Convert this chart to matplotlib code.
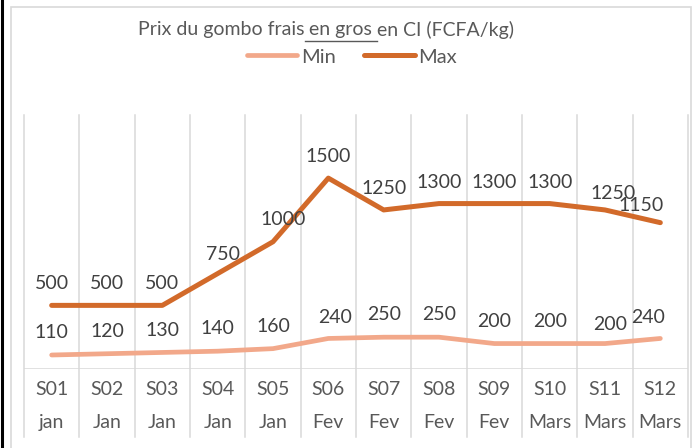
import matplotlib
matplotlib.use("Agg")
import matplotlib.pyplot as plt
from matplotlib.lines import Line2D
from matplotlib.patches import Rectangle
import matplotlib.transforms as mtransforms

weeks = ["S01", "S02", "S03", "S04", "S05", "S06", "S07", "S08", "S09", "S10", "S11", "S12"]
months = ["jan", "Jan", "Jan", "Jan", "Jan", "Fev", "Fev", "Fev", "Fev", "Mars", "Mars", "Mars"]
price_min = [110, 120, 130, 140, 160, 240, 250, 250, 200, 200, 200, 240]
price_max = [500, 500, 500, 750, 1000, 1500, 1250, 1300, 1300, 1300, 1250, 1150]

plt.rcParams['font.family'] = ['Lato', 'DejaVu Sans']

W, H = 696, 448
fig = plt.figure(figsize=(W / 100, H / 100), dpi=100)
ax = fig.add_axes([24 / W, 1 - 369 / H, (688 - 24) / W, (369 - 114.5) / H])

c_min = '#F2A88A'
c_max = '#D26A2A'
grid_c = '#D9D9D9'
txt_c = '#595959'
lab_c = '#404040'
fs = 14

x = list(range(len(weeks)))
ax.plot(x, price_min, color=c_min, lw=3.4, solid_capstyle='round', solid_joinstyle='round', label='Min', zorder=3)
ax.plot(x, price_max, color=c_max, lw=3.6, solid_capstyle='round', solid_joinstyle='round', label='Max', zorder=3)

ax.set_xlim(-0.5, len(weeks) - 0.5)
ax.set_ylim(0, 2000)
ax.set_xticks([])
ax.set_yticks([])
for s in ax.spines.values():
    s.set_visible(False)

# vertical separators, running down through the category labels
trans = mtransforms.blended_transform_factory(ax.transData, ax.transAxes)
for b in [i - 0.5 for i in range(len(weeks) + 1)]:
    ax.add_line(Line2D([b, b], [1, -0.267], transform=trans, color=grid_c, lw=1.1, clip_on=False, zorder=1))
ax.axhline(0, color=grid_c, lw=1.1, zorder=1)

# category labels, two rows
for i in x:
    ax.text(i, -0.079, weeks[i], transform=trans, ha='center', va='center', fontsize=fs, color=txt_c)
    ax.text(i, -0.209, months[i], transform=trans, ha='center', va='center', fontsize=fs, color=txt_c)

# data labels (excel moved a few of them sideways to avoid the line)
max_nudge = {3: (4, 14), 4: (7, 16), 10: (6, 12), 11: (-14, 12)}
min_nudge = {5: (5, 15), 10: (4, 14), 11: (-9, 15)}
for i in x:
    ax.annotate(str(price_max[i]), (i, price_max[i]), xytext=max_nudge.get(i, (0, 15.5)), textcoords='offset points',
                ha='center', va='center', fontsize=fs, color=lab_c)
    ax.annotate(str(price_min[i]), (i, price_min[i]), xytext=min_nudge.get(i, (0, 16)), textcoords='offset points',
                ha='center', va='center', fontsize=fs, color=lab_c)

# chart frame
fig.add_artist(Rectangle((11 / W, -0.05), (691 - 11) / W, 1.05 - 7 / H, transform=fig.transFigure,
                         fill=False, edgecolor=grid_c, lw=1.2))
fig.add_artist(Line2D([1.5 / W, 1.5 / W], [0, 1], transform=fig.transFigure, color='black', lw=2.2))

# title with underlined middle part
ty = 1 - 30 / H
tfs = 14
t1 = fig.text(138 / W, ty, "Prix du gombo frais", fontsize=tfs, color=txt_c, va='center', ha='left')
t2 = fig.text(0, 0, " en gros ", fontsize=tfs, color=txt_c, va='center', ha='left')
t3 = fig.text(0, 0, "en CI (FCFA/kg)", fontsize=tfs, color=txt_c, va='center', ha='left')
fig.canvas.draw()
r = fig.canvas.get_renderer()
bb1 = t1.get_window_extent(r)
t2.set_position((bb1.x1 / W, ty))
fig.canvas.draw()
bb2 = t2.get_window_extent(r)
t3.set_position((bb2.x1 / W, ty))
fig.add_artist(Line2D([bb2.x0 / W, bb2.x1 / W], [1 - 41 / H, 1 - 41 / H], transform=fig.transFigure,
                      color=txt_c, lw=1.0))

fig.legend(loc='center', bbox_to_anchor=(352 / W, 1 - 57 / H), ncol=2, frameon=False, fontsize=14.5,
           handlelength=2.5, handletextpad=0.2, columnspacing=1.4, labelcolor=txt_c)

fig.savefig('out.png', dpi=100)
